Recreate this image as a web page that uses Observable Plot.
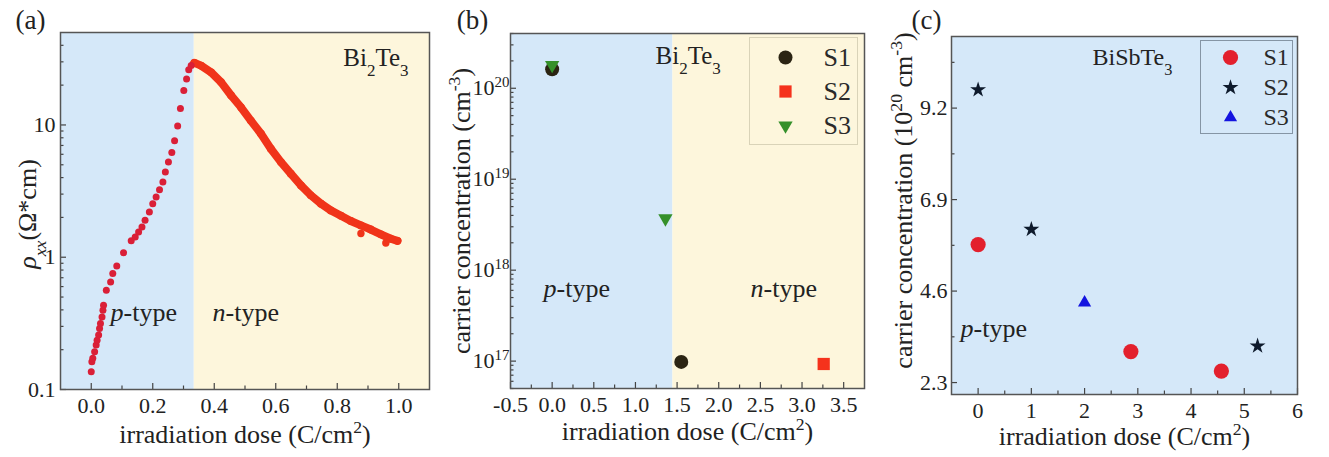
<!DOCTYPE html>
<html><head><meta charset="utf-8">
<script src="https://cdn.jsdelivr.net/npm/d3@7"></script>
<script src="https://cdn.jsdelivr.net/npm/@observablehq/plot@0.6"></script>
<style>
body{margin:0;background:#fff;}
#wrap{position:relative;width:1329px;height:457px;overflow:hidden;background:#fff;}
</style></head><body><div id="wrap"></div>
<script>
// ---------------- DATA ----------------
// Panel (a): Bi2Te3 resistivity vs dose
const aXDomain = [-0.1, 1.1];
const aYDomain = [0.1, 50];
const aBoundary = 0.335;
const aPDose = [0.000,0.002,0.005,0.011,0.016,0.019,0.024,0.027,0.030,0.035,0.038,0.040,0.049,0.063,0.070,0.083,0.105,0.130,0.143,0.154,0.165,0.175,0.189,0.200,0.211,0.222,0.233,0.241,0.251,0.262,0.271,0.281,0.290,0.301,0.310,0.317,0.325];
const aPRho  = [0.136,0.162,0.172,0.193,0.217,0.236,0.258,0.289,0.316,0.354,0.398,0.434,0.564,0.651,0.753,0.86,1.08,1.33,1.42,1.55,1.69,1.90,2.2,2.54,2.85,3.24,3.70,4.4,5.24,6.2,7.6,9.8,13.3,18.2,22.3,26.1,28.1];
const aNDose = [0.335,0.357,0.390,0.422,0.455,0.487,0.519,0.552,0.584,0.617,0.649,0.682,0.714,0.747,0.779,0.812,0.844,0.877,0.909,0.942,0.974,0.996];
const aNRho  = [29.5,28.1,25.0,21.1,16.7,13.6,10.8,8.58,6.61,5.24,4.28,3.49,2.94,2.54,2.26,2.06,1.88,1.74,1.62,1.49,1.38,1.33];
const aNOutDose = [0.877,0.958];
const aNOutRho  = [1.51,1.28];
const aXTicks = [0,0.2,0.4,0.6,0.8,1.0];
const aXTickLabels = ["0.0","0.2","0.4","0.6","0.8","1.0"];
const aXMinor = [0.1,0.3,0.5,0.7,0.9];
const aYTicks = [0.1,1,10];
const aYTickLabels = ["0.1","1","10"];
const aYMinor = [0.2,0.3,0.4,0.5,0.6,0.7,0.8,0.9,2,3,4,5,6,7,8,9,20,30,40];

// Panel (b): Bi2Te3 carrier concentration
const bXDomain = [-0.5, 3.75];
const bYDomain = [5e16, 4e20];
const bBoundary = 1.45;
const bS1Dose = [0, 1.55],  bS1Conc = [1.62e20, 0.98e17];
const bS2Dose = [3.26],     bS2Conc = [0.93e17];
const bS3Dose = [0, 1.36],  bS3Conc = [1.8e20, 3.7e18];
const bXTicks = [-0.5,0,0.5,1,1.5,2,2.5,3,3.5];
const bXTickLabels = ["-0.5","0.0","0.5","1.0","1.5","2.0","2.5","3.0","3.5"];
const bXMinor = [-0.25,0.25,0.75,1.25,1.75,2.25,2.75,3.25];
const bYTicks = [1e17,1e18,1e19,1e20];
const bYTickLabels = ["10^{17}","10^{18}","10^{19}","10^{20}"];
const bYMinor = [5e16,6e16,7e16,8e16,9e16,2e17,3e17,4e17,5e17,6e17,7e17,8e17,9e17,2e18,3e18,4e18,5e18,6e18,7e18,8e18,9e18,2e19,3e19,4e19,5e19,6e19,7e19,8e19,9e19,2e20,3e20,4e20];

// Panel (c): BiSbTe3 carrier concentration
const cXDomain = [-0.5, 6];
const cYDomain = [2.0, 11.0];
const cS1Dose = [0, 2.87, 4.57], cS1Conc = [5.77, 3.08, 2.59];
const cS2Dose = [0, 1, 5.25],    cS2Conc = [9.66, 6.15, 3.22];
const cS3Dose = [2],             cS3Conc = [4.31];
const cXTicks = [0,1,2,3,4,5,6];
const cXTickLabels = ["0","1","2","3","4","5","6"];
const cXMinor = [0.5,1.5,2.5,3.5,4.5,5.5];
const cYTicks = [2.3,4.6,6.9,9.2];
const cYTickLabels = ["2.3","4.6","6.9","9.2"];
const cYMinor = [3.45,5.75,8.05,10.35];

const seriesNames = ["S1","S2","S3"];

// ---------------- STYLE ----------------
const FONT = "'Liberation Serif', 'Times New Roman', serif";
const BLUE = "#d5e8f9", YELLOW = "#fdf6dc", FRAME = "#555";
const P_COLOR = "#da1f37", N_COLOR = "#f0341a";
const triangleDown = {draw(ctx, size){ const y = Math.sqrt(size/(Math.sqrt(3)*3)); ctx.moveTo(0, 2*y); ctx.lineTo(-Math.sqrt(3)*y, -y); ctx.lineTo(Math.sqrt(3)*y, -y); ctx.closePath(); }};
const bStyle = {S1:{fill:"#2b2413", symbol:"circle", r:7}, S2:{fill:"#f5321c", symbol:"square", r:6.9}, S3:{fill:"#35902a", symbol:triangleDown, r:5.3}};
const cStyle = {S1:{fill:"#e3202d", symbol:"circle", r:7.6}, S2:{fill:"#0e1a2c", symbol:"star", r:5.0}, S3:{fill:"#1414e0", symbol:"triangle", r:4.9}};

const wrap = document.getElementById("wrap");
const baseStyle = {fontFamily: FONT, fontSize: "22px", color: "#222", background: "transparent", overflow: "visible"};

function rich(s) {
  return s.replace(/&/g,"&amp;").replace(/</g,"&lt;")
    .replace(/~\{([^}]*)\}/g, '<tspan font-style="italic">$1</tspan>')
    .replace(/\^\{([^}]*)\}/g, '<tspan baseline-shift="super" font-size="68%">$1</tspan>')
    .replace(/_\{([^}]*)\}/g, '<tspan baseline-shift="sub" font-size="68%">$1</tspan>');
}
function richify(svg) {
  svg.querySelectorAll("text").forEach(t => {
    const s = t.textContent;
    if (/[\^_~]\{/.test(s)) t.innerHTML = rich(s);
  });
}
function place(svg, left, top) {
  svg.style.position = "absolute";
  svg.style.left = left + "px";
  svg.style.top = top + "px";
  richify(svg);
  wrap.appendChild(svg);
}
const zip = (xs, ys) => xs.map((x, i) => ({x, y: ys[i]}));
const lab = (ticks, labels) => d => labels[ticks.indexOf(d)];

function tickMarks(xMaj, xMin, yMaj, yMin, fw, fh) {
  const s = {stroke: "#444", strokeWidth: 1.2};
  return [
    Plot.tickX(xMaj, {x: d => d, insetTop: fh - 6, ...s}),
    Plot.tickX(xMin, {x: d => d, insetTop: fh - 3.5, ...s}),
    Plot.tickY(yMaj, {y: d => d, insetRight: fw - 6, ...s}),
    Plot.tickY(yMin, {y: d => d, insetRight: fw - 3.5, ...s})
  ];
}
function txt(str, o) {
  return Plot.text([str], {text: d => d, fontFamily: FONT, fill: "#222", textAnchor: "middle", lineAnchor: "middle", ...o});
}
function seriesDots(list, style) {
  return list.map(([name, xs, ys]) => Plot.dot(zip(xs, ys), {x: "x", y: "y", ...style[name], stroke: "none"}));
}
function legend(style, left, top, w, h, border, markerX, textX, fs) {
  const svg = Plot.plot({
    width: w, height: h, margin: 0,
    y: {type: "point", domain: seriesNames, padding: 0.55, axis: null},
    style: baseStyle,
    marks: [
      Plot.frame({stroke: border, strokeWidth: 1}),
      ...seriesNames.map(n => Plot.dot([n], {y: d => d, frameAnchor: "left", dx: markerX, ...style[n], stroke: "none"})),
      Plot.text(seriesNames, {y: d => d, text: d => d, frameAnchor: "left", dx: textX, textAnchor: "start", lineAnchor: "middle", fontSize: fs, fontFamily: FONT, fill: "#2a2a2a"})
    ]
  });
  place(svg, left, top);
}

// ---------------- PANEL (a) ----------------
{
  const W = 440, H = 457, ml = 60, mr = 11, mt = 32, mb = 68;
  const fw = W - ml - mr, fh = H - mt - mb;
  const svg = Plot.plot({
    width: W, height: H, marginLeft: ml, marginRight: mr, marginTop: mt, marginBottom: mb,
    x: {domain: aXDomain}, y: {type: "log", domain: aYDomain},
    style: baseStyle,
    marks: [
      Plot.rect([{x1: aXDomain[0], x2: aBoundary}], {x1: "x1", x2: "x2", fill: BLUE}),
      Plot.rect([{x1: aBoundary, x2: aXDomain[1]}], {x1: "x1", x2: "x2", fill: YELLOW}),
      ...tickMarks(aXTicks, aXMinor, aYTicks, aYMinor, fw, fh),
      Plot.line(zip(aNDose, aNRho), {x: "x", y: "y", stroke: N_COLOR, strokeWidth: 8, strokeLinecap: "round", strokeLinejoin: "round"}),
      Plot.dot(zip(aNDose, aNRho), {x: "x", y: "y", r: 3.9, fill: N_COLOR, stroke: "none"}),
      Plot.dot(zip(aNOutDose, aNOutRho), {x: "x", y: "y", r: 3.7, fill: N_COLOR, stroke: "none"}),
      Plot.dot(zip(aPDose, aPRho), {x: "x", y: "y", r: 3.5, fill: P_COLOR, stroke: "none"}),
      Plot.frame({stroke: FRAME, strokeWidth: 1.5}),
      Plot.axisX(aXTicks, {tickSize: 0, tickPadding: 8, tickFormat: lab(aXTicks, aXTickLabels), label: null, fontSize: 22}),
      Plot.axisY(aYTicks, {tickSize: 0, tickPadding: 5, tickFormat: lab(aYTicks, aYTickLabels), label: null, fontSize: 22}),
      txt("Bi_{2}Te_{3}", {frameAnchor: "top-right", dx: -21, dy: 25, textAnchor: "end", fontSize: 25}),
      txt("~{p}-type", {frameAnchor: "bottom-left", dx: 50, dy: -77, textAnchor: "start", fontSize: 26}),
      txt("~{n}-type", {frameAnchor: "bottom-left", dx: 152, dy: -77, textAnchor: "start", fontSize: 26}),
      txt("irradiation dose (C/cm^{2})", {frameAnchor: "bottom", dy: 45, fontSize: 26}),
      txt("~{ρ}_{~{xx}}(Ω*cm)", {frameAnchor: "left", dx: -33, dy: 3, rotate: -90, fontSize: 26}),
      txt("(a)", {frameAnchor: "top-left", dx: -30, dy: -12, fontSize: 27})
    ]
  });
  place(svg, 0, 0);
}

// ---------------- PANEL (b) ----------------
{
  const W = 440, H = 457, ml = 70, mr = 16, mt = 33, mb = 69;
  const fw = W - ml - mr, fh = H - mt - mb;
  const svg = Plot.plot({
    width: W, height: H, marginLeft: ml, marginRight: mr, marginTop: mt, marginBottom: mb,
    x: {domain: bXDomain}, y: {type: "log", domain: bYDomain},
    style: baseStyle,
    marks: [
      Plot.rect([{x1: bXDomain[0], x2: bBoundary}], {x1: "x1", x2: "x2", fill: BLUE}),
      Plot.rect([{x1: bBoundary, x2: bXDomain[1]}], {x1: "x1", x2: "x2", fill: YELLOW}),
      ...tickMarks(bXTicks, bXMinor, bYTicks, bYMinor, fw, fh),
      ...seriesDots([["S1", bS1Dose, bS1Conc], ["S2", bS2Dose, bS2Conc], ["S3", bS3Dose, bS3Conc]], bStyle),
      Plot.frame({stroke: FRAME, strokeWidth: 1.5}),
      Plot.axisX(bXTicks, {tickSize: 0, tickPadding: 8, tickFormat: lab(bXTicks, bXTickLabels), label: null, fontSize: 22}),
      Plot.axisY(bYTicks, {tickSize: 0, tickPadding: 1, tickFormat: lab(bYTicks, bYTickLabels), label: null, fontSize: 22}),
      txt("Bi_{2}Te_{3}", {frameAnchor: "top-left", dx: 145, dy: 22, textAnchor: "start", fontSize: 25}),
      txt("~{p}-type", {frameAnchor: "bottom-left", dx: 33, dy: -100, textAnchor: "start", fontSize: 26}),
      txt("~{n}-type", {frameAnchor: "bottom-left", dx: 240, dy: -100, textAnchor: "start", fontSize: 26}),
      txt("irradiation dose (C/cm^{2})", {frameAnchor: "bottom", dy: 43, fontSize: 26}),
      txt("carrier concentration (cm^{-3})", {frameAnchor: "left", dx: -49, rotate: -90, fontSize: 26}),
      txt("(b)", {frameAnchor: "top-left", dx: -38, dy: -13, fontSize: 27})
    ]
  });
  place(svg, 440, 0);
  legend(bStyle, 749, 37, 108, 107, "#d9d3b8", 36, 74, 26);
}

// ---------------- PANEL (c) ----------------
{
  const W = 449, H = 457, ml = 71, mr = 32, mt = 36, mb = 63;
  const fw = W - ml - mr, fh = H - mt - mb;
  const svg = Plot.plot({
    width: W, height: H, marginLeft: ml, marginRight: mr, marginTop: mt, marginBottom: mb,
    x: {domain: cXDomain}, y: {domain: cYDomain},
    style: baseStyle,
    marks: [
      Plot.frame({fill: BLUE}),
      ...tickMarks(cXTicks, cXMinor, cYTicks, cYMinor, fw, fh),
      ...seriesDots([["S1", cS1Dose, cS1Conc], ["S2", cS2Dose, cS2Conc], ["S3", cS3Dose, cS3Conc]], cStyle),
      Plot.frame({stroke: FRAME, strokeWidth: 1.5}),
      Plot.axisX(cXTicks, {tickSize: 0, tickPadding: 8, tickFormat: lab(cXTicks, cXTickLabels), label: null, fontSize: 22}),
      Plot.axisY(cYTicks, {tickSize: 0, tickPadding: 4, tickFormat: lab(cYTicks, cYTickLabels), label: null, fontSize: 22}),
      txt("BiSbTe_{3}", {frameAnchor: "top-left", dx: 141, dy: 21, textAnchor: "start", fontSize: 24}),
      txt("~{p}-type", {frameAnchor: "bottom-left", dx: 9, dy: -66, textAnchor: "start", fontSize: 26}),
      txt("irradiation dose (C/cm^{2})", {frameAnchor: "bottom", dy: 42, fontSize: 26}),
      txt("carrier concentration (10^{20} cm^{-3})", {frameAnchor: "left", dx: -48, dy: -15, rotate: -90, fontSize: 26}),
      txt("(c)", {frameAnchor: "top-left", dx: -25, dy: -16, fontSize: 27})
    ]
  });
  place(svg, 880, 0);
  legend(cStyle, 1200, 40, 92, 93, "#8595a5", 30, 63, 24);
}
</script></body></html>
